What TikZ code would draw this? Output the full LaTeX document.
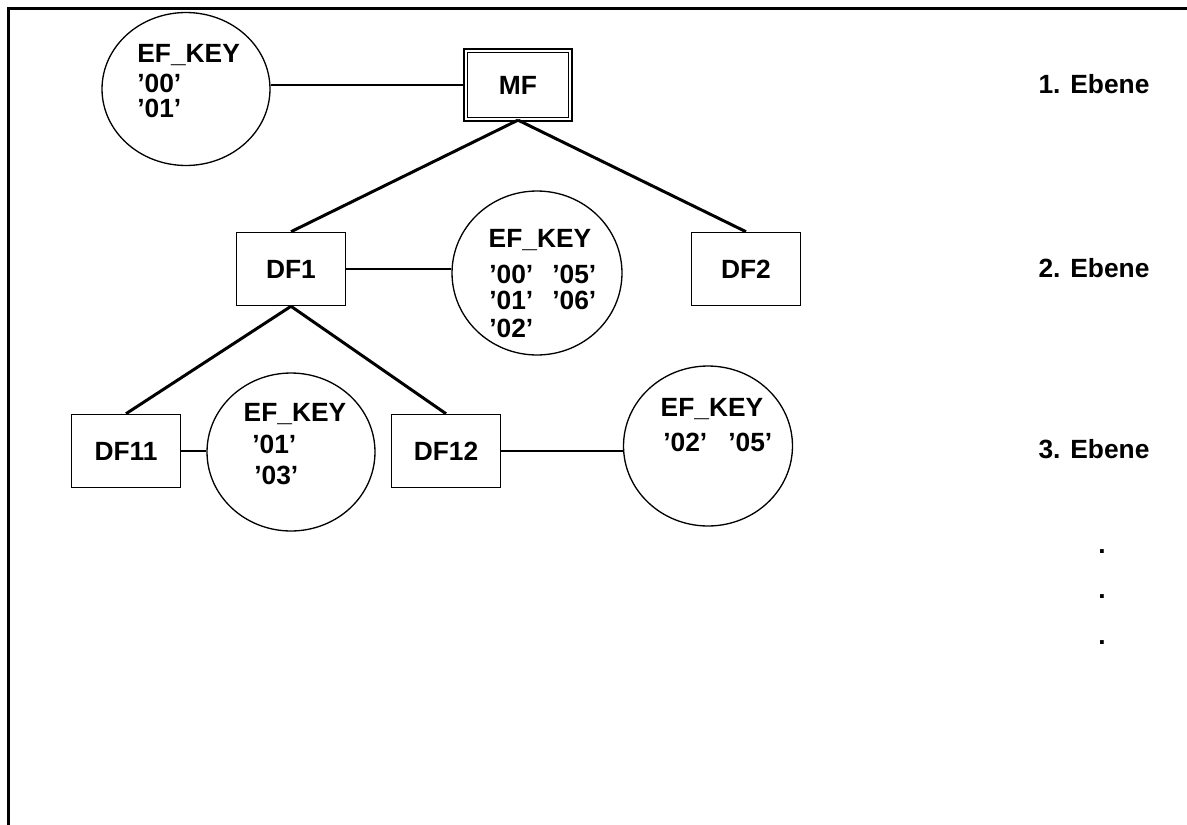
\documentclass[tikz,border=0pt]{standalone}
\usepackage{fontspec}
\setmainfont{Liberation Sans}
\usetikzlibrary{shapes.geometric}

\begin{document}
\begin{tikzpicture}[x=0.02cm,y=-0.02cm,
  font=\fontsize{15}{18}\selectfont\bfseries,
  box/.style={draw,line width=0.9pt,minimum width=2.18cm,minimum height=1.46cm,inner sep=0pt},
  mfbox/.style={draw,double,line width=1pt,double distance=1pt,minimum width=2.09cm,minimum height=1.37cm,inner sep=0pt},
  keyoval/.style={draw,ellipse,line width=0.75pt,inner sep=0pt},
  txt/.style={inner sep=0pt,anchor=base west},
  ctxt/.style={inner sep=0pt,anchor=base},
  tree/.style={line width=1.7pt},
  link/.style={line width=0.75pt}]
\useasboundingbox (0,0) rectangle (1187,825);
\draw[line width=1.6pt] (8.7,830) -- (8.7,8.7) -- (1190,8.7);

\node[mfbox] (MF)   at (518,85)  {MF};
\node[box]   (DF1)  at (291,269) {DF1};
\node[box]   (DF2)  at (746,269) {DF2};
\node[box]   (DF11) at (126,451) {DF11};
\node[box]   (DF12) at (446,451) {DF12};

\node[keyoval,minimum width=3.36cm,minimum height=3.06cm] (key0)  at (186,89)  {};
\node[keyoval,minimum width=3.4cm,minimum height=3.28cm]  (key1)  at (537,273) {};
\node[keyoval,minimum width=3.36cm,minimum height=3.16cm] (key11) at (291,452) {};
\node[keyoval,minimum width=3.38cm,minimum height=3.2cm]  (key12) at (708,446) {};

\node[txt] at (137,62)  {EF\_KEY};
\node[txt] at (137,92)  {’00’};
\node[txt] at (137,117) {’01’};

\node[ctxt] at (540,247) {EF\_KEY};
\node[txt] at (489,283) {’00’};
\node[txt] at (552,283) {’05’};
\node[txt] at (489,309) {’01’};
\node[txt] at (552,309) {’06’};
\node[txt] at (489,337) {’02’};

\node[ctxt] at (295,421) {EF\_KEY};
\node[txt] at (252,453) {’01’};
\node[txt] at (254,484) {’03’};

\node[ctxt] at (712,416) {EF\_KEY};
\node[txt] at (663,451) {’02’};
\node[txt] at (728,451) {’05’};

\draw[link] (MF.west) -- (MF.west -| key0.east);
\draw[link] (DF1.east) -- (DF1.east -| key1.west);
\draw[link] (DF11.east) -- (DF11.east -| key11.west);
\draw[link] (DF12.east) -- (DF12.east -| key12.west);

\draw[tree] (MF.south) -- (DF1.north);
\draw[tree] (MF.south) -- (DF2.north);
\draw[tree] (DF1.south) -- (DF11.north);
\draw[tree] (DF1.south) -- (DF12.north);

\node[ctxt] (lev1) at (1094,93)  {1. Ebene};
\node[ctxt] (lev2) at (1094,277) {2. Ebene};
\node[ctxt] (lev3) at (1094,458) {3. Ebene};
\node[ctxt] (dot1) at (1102,553) {.};
\node[ctxt] (dot2) at (1102,598) {.};
\node[ctxt] (dot3) at (1102,644) {.};
\end{tikzpicture}
\end{document}
